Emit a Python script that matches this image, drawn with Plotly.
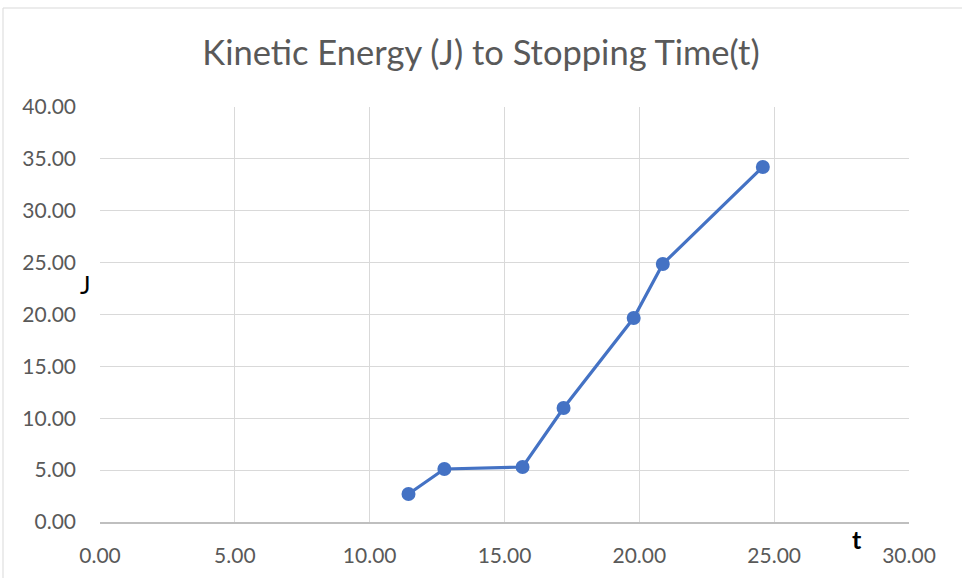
import plotly.graph_objects as go

time_t = [11.44, 12.77, 15.67, 17.19, 19.79, 20.87, 24.58]
energy_j = [2.70, 5.11, 5.30, 10.99, 19.66, 24.87, 34.22]

title_text = "Kinetic Energy (J) to Stopping Time(t)"
x_ticks = [0, 5, 10, 15, 20, 25, 30]
y_ticks = [0, 5, 10, 15, 20, 25, 30, 35, 40]

fig = go.Figure()
fig.add_trace(go.Scatter(
    x=time_t, y=energy_j, mode="lines+markers",
    line=dict(color="#4472C4", width=3.2),
    marker=dict(color="#4472C4", size=14),
    showlegend=False,
))

W, H = 962, 578
L, R, T, B = 100, 53, 107, 56
pw, ph = W - L - R, H - T - B

def px(xp):
    return (xp - L) / pw

def py(yp):
    return (H - B - yp) / ph

FONT = "Lato, Carlito, sans-serif"

fig.update_layout(
    width=W, height=H,
    margin=dict(l=L, r=R, t=T, b=B, autoexpand=False),
    paper_bgcolor="white", plot_bgcolor="white",
    font=dict(family=FONT, color="#595959", size=21),
    title=dict(text=title_text, x=0.5, xanchor="center", y=1 - 53 / H, yanchor="middle",
               font=dict(size=34.5, color="#595959", family=FONT)),
    xaxis=dict(range=[0, 30], tickvals=x_ticks, ticktext=[f"{v:.2f}" for v in x_ticks],
               showgrid=True, gridcolor="#d9d9d9", gridwidth=1,
               showline=True, linecolor="#bfbfbf", linewidth=1.5,
               zeroline=False, ticks="", ticklabelstandoff=14, fixedrange=True,
               automargin=False),
    yaxis=dict(range=[0, 40], tickvals=y_ticks, ticktext=[f"{v:.2f}" for v in y_ticks],
               showgrid=True, gridcolor="#d9d9d9", gridwidth=1,
               zeroline=False, ticks="", ticklabelstandoff=23, fixedrange=True,
               automargin=False),
    shapes=[dict(type="rect", xref="paper", yref="paper",
                 x0=px(3), x1=px(W + 5), y0=py(H + 5), y1=py(8),
                 line=dict(color="#d9d9d9", width=1), fillcolor="rgba(0,0,0,0)", layer="below")],
    annotations=[
        dict(text="J", xref="paper", yref="paper", x=px(85), y=py(284), showarrow=False,
             xanchor="center", yanchor="middle",
             font=dict(size=25, color="black", family=FONT)),
        dict(text="<b>t</b>", xref="paper", yref="paper", x=px(857), y=py(539), showarrow=False,
             xanchor="center", yanchor="middle",
             font=dict(size=25, color="black", family=FONT)),
    ],
)

fig.write_html("out.html", config={"displayModeBar": False},
               post_script="document.body.style.margin='0';")
